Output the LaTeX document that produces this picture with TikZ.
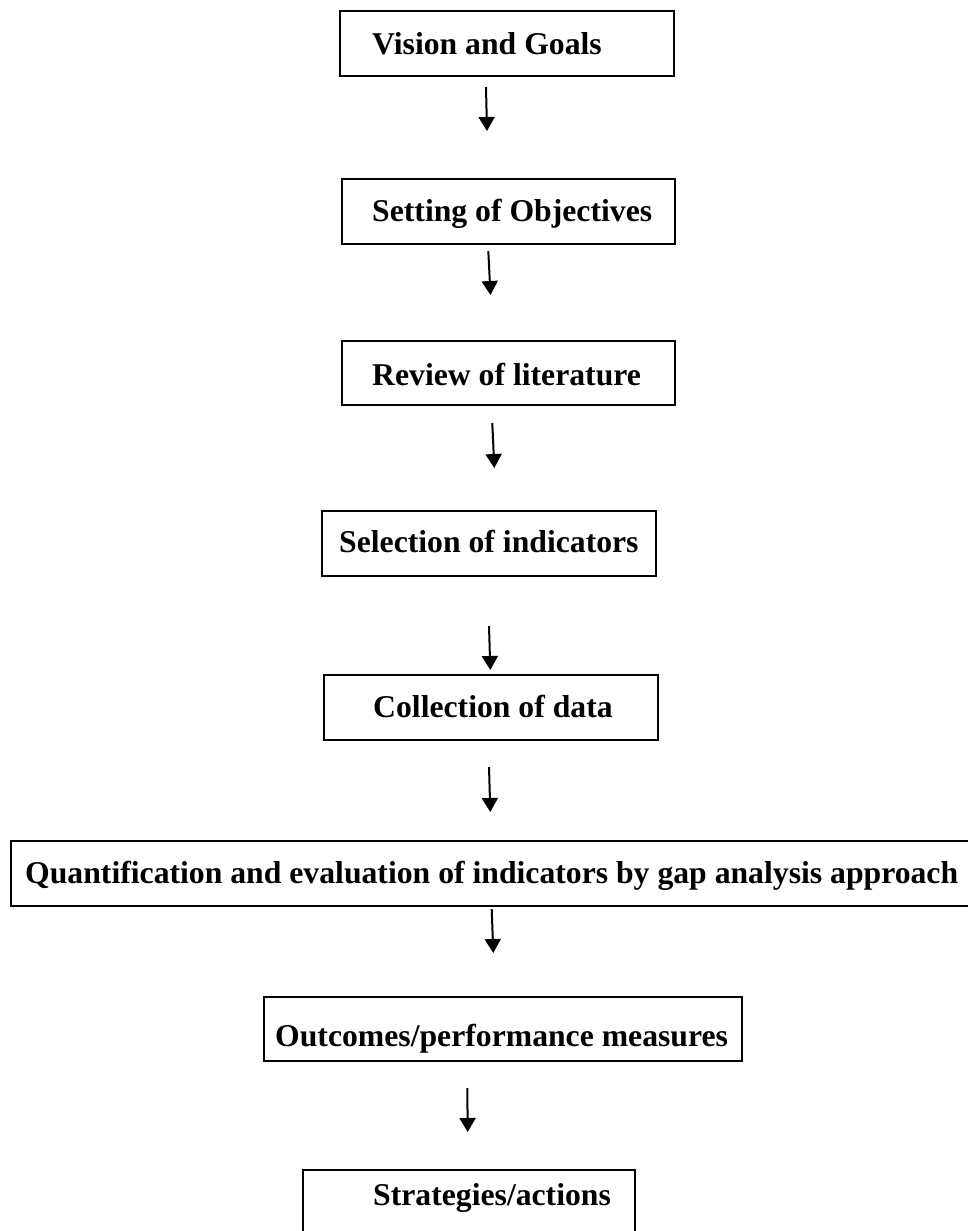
\documentclass[tikz,border=0pt]{standalone}
\usepackage{fontspec}
\setmainfont{Liberation Serif}
\usetikzlibrary{arrows.meta}
\begin{document}
\begin{tikzpicture}[x=1pt,y=-1pt,
  boxnode/.style={draw=black,line width=2.3pt,inner sep=0pt,minimum height=65pt},
  lbl/.style={anchor=base west,inner sep=0pt,font=\fontsize{31.7}{38}\selectfont\bfseries},
  arr/.style={line width=2pt,-{Triangle[width=16pt,length=14pt]}}]
\fill[white] (0,0) rectangle (968,1231);
\useasboundingbox (0,0) rectangle (968,1231);
% boxes
\node[boxnode,minimum width=334pt] (b1) at (507,43.5) {};
\node[boxnode,minimum width=333pt] (b2) at (508.5,211.5) {};
\node[boxnode,minimum width=333pt,minimum height=64pt] (b3) at (508.5,373) {};
\node[boxnode,minimum width=334pt] (b4) at (489,543.5) {};
\node[boxnode,minimum width=334pt] (b5) at (491,707.5) {};
\node[boxnode,minimum width=962pt] (b6) at (492,873.5) {};
\node[boxnode,minimum width=478pt,minimum height=64pt] (b7) at (503,1029) {};
\node[boxnode,minimum width=332pt] (b8) at (469,1202.5) {};
% labels
\node[lbl] (t1) at (372,55) {Vision and Goals};
\node[lbl] (t2) at (372,221) {Setting of Objectives};
\node[lbl] (t3) at (372,385) {Review of literature};
\node[lbl] (t4) at (339,552) {Selection of indicators};
\node[lbl] (t5) at (373,717) {Collection of data};
\node[lbl] (t6) at (25,883) {Quantification and evaluation of indicators by gap analysis approach};
\node[lbl] (t7) at (275,1046) {Outcomes/performance measures};
\node[lbl] (t8) at (373,1205) {Strategies/actions};
% arrow end points
\coordinate (a1s) at (486,87);   \coordinate (a1e) at (487,131);
\coordinate (a2s) at (488.3,251); \coordinate (a2e) at (490.5,295);
\coordinate (a3s) at (492.3,423); \coordinate (a3e) at (494.3,468);
\coordinate (a4s) at (489,626);  \coordinate (a4e) at (490.3,670);
\coordinate (a5s) at (489,767);  \coordinate (a5e) at (490.3,812);
\coordinate (a6s) at (491.7,909); \coordinate (a6e) at (493.3,953);
\coordinate (a7s) at (467.3,1088); \coordinate (a7e) at (467.7,1132);
\foreach \i in {1,...,7} {\draw[arr] (a\i s) -- (a\i e);}
\end{tikzpicture}
\end{document}
